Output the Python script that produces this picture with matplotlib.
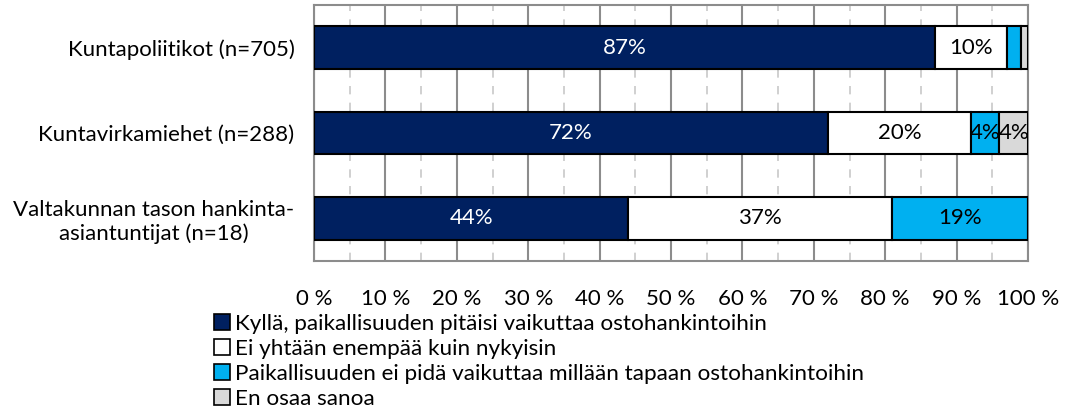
import matplotlib
matplotlib.use("Agg")
import matplotlib.pyplot as plt
from matplotlib.ticker import MultipleLocator, FuncFormatter
from matplotlib.patches import Patch

categories = ["Kuntapoliitikot (n=705)", "Kuntavirkamiehet (n=288)",
              "Valtakunnan tason hankinta-\nasiantuntijat (n=18)"]
series_names = ["Kyllä, paikallisuuden pitäisi vaikuttaa ostohankintoihin",
                "Ei yhtään enempää kuin nykyisin",
                "Paikallisuuden ei pidä vaikuttaa millään tapaan ostohankintoihin",
                "En osaa sanoa"]
kylla = [87, 72, 44]
ei_enempaa = [10, 20, 37]
ei_vaikuta = [2, 4, 19]
en_osaa = [1, 4, 0]
series = [kylla, ei_enempaa, ei_vaikuta, en_osaa]
colors = ["#002060", "#FFFFFF", "#00B0F0", "#D9D9D9"]
text_colors = ["white", "black", "black", "black"]
show_min = 3  # small segments not labelled

plt.rcParams['font.family'] = ['Lato', 'DejaVu Sans']
fs = 16

fig = plt.figure(figsize=(10.66, 4.17), dpi=100)
W, H = 1066, 417
left, right, top, bottom = 314, 1028, 5, 261
ax = fig.add_axes([left / W, 1 - bottom / H, (right - left) / W, (bottom - top) / H])

ypos = list(range(len(categories)))
lefts = [0] * len(categories)
for vals, col, tc in zip(series, colors, text_colors):
    ax.barh(ypos, vals, left=lefts, height=0.5, color=col,
            edgecolor="black", linewidth=1.5, zorder=3)
    for y, v, l in zip(ypos, vals, lefts):
        if v >= show_min:
            ax.text(l + v / 2, y, f"{v}%", ha="center", va="center",
                    color=tc, fontsize=fs, zorder=4)
    lefts = [a + b for a, b in zip(lefts, vals)]

ax.set_xlim(0, 100)
ax.set_ylim(len(categories) - 0.5, -0.5)
ax.set_yticks(ypos)
ax.set_yticklabels(categories, fontsize=fs, multialignment="center")
ax.tick_params(axis="y", length=0, pad=14)
ax.xaxis.set_major_locator(MultipleLocator(10))
ax.xaxis.set_minor_locator(MultipleLocator(5))
ax.xaxis.set_major_formatter(FuncFormatter(lambda v, p: f"{int(round(v))} %"))
ax.tick_params(axis="x", which="both", length=0, pad=20, labelsize=fs)
ax.grid(axis="x", which="major", color="#8C8C8C", linewidth=1.5, zorder=0)
ax.grid(axis="x", which="minor", color="#C8C8C8", linewidth=1.2,
        linestyle=(0, (5, 5)), zorder=0)
for s in ax.spines.values():
    s.set_color("#8C8C8C")
    s.set_linewidth(1.5)

handles = [Patch(facecolor=c, edgecolor="black", linewidth=1.2) for c in colors]
fig.legend(handles, series_names, loc="upper left",
           bbox_to_anchor=(214 / W, 1 - 314 / H), frameon=False,
           fontsize=16.2, handlelength=0.7, handleheight=0.7,
           handletextpad=0.25, labelspacing=0.22, borderpad=0, borderaxespad=0)

fig.savefig("out.png", dpi=100)
